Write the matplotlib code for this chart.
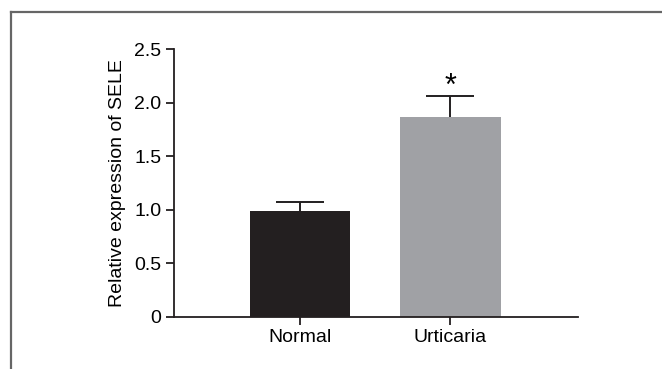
import matplotlib
matplotlib.use("Agg")
import matplotlib.pyplot as plt
from matplotlib.lines import Line2D

categories = ["Normal", "Urticaria"]
values = [0.99, 1.87]
errors = [0.08, 0.19]
colors = ["#231f20", "#a0a1a5"]
yticks = [0, 0.5, 1.0, 1.5, 2.0, 2.5]
yticklabels = ["0", "0.5", "1.0", "1.5", "2.0", "2.5"]

plt.rcParams['font.family'] = ['Liberation Sans', 'DejaVu Sans']

W, H = 662, 369
fig = plt.figure(figsize=(W/100, H/100), dpi=100)
ax = fig.add_axes([174/W, 1-316.7/H, (578-174)/W, (316.7-49.3)/H])

x = [0, 1]
ax.bar(x, values, width=0.67, color=colors, zorder=2)
eb = ax.errorbar(x, values, yerr=[[0, 0], errors], fmt='none', ecolor='#231f20',
                 elinewidth=1.4, capsize=17.5, capthick=1.4, zorder=1)
caplines = eb[1]
if len(caplines) == 2:
    caplines[0].set_visible(False)
ax.text(1, values[1] + errors[1] + 0.09, "*", ha='center', va='center', fontsize=22)

ax.set_xlim(-0.84, 1.85)
ax.set_ylim(0, 2.5)
ax.set_xticks(x)
ax.set_xticklabels(categories, fontsize=14)
ax.set_yticks(yticks)
ax.set_yticklabels(yticklabels, fontsize=14)
ax.set_ylabel("Relative expression of SELE", fontsize=14, labelpad=6)
for s in ['top', 'right']:
    ax.spines[s].set_visible(False)
for s in ['left', 'bottom']:
    ax.spines[s].set_linewidth(1.3)
    ax.spines[s].set_color('#231f20')
    ax.spines[s].set_zorder(3)
ax.tick_params(axis='both', direction='out', length=6, width=1.3, color='#231f20', pad=3)

fig.add_artist(Line2D([11/W, 1], [1-12/H, 1-12/H], color='#666666', lw=1.6, transform=fig.transFigure))
fig.add_artist(Line2D([11/W, 11/W], [0, 1-12/H], color='#666666', lw=1.6, transform=fig.transFigure))

fig.savefig("out.png", dpi=100)
